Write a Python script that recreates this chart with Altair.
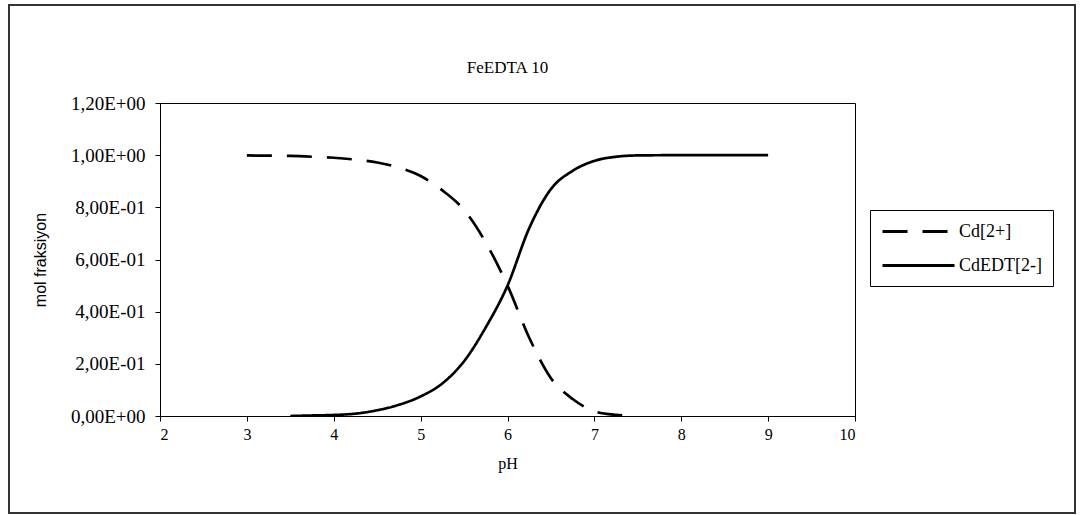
import altair as alt
import pandas as pd

# pH values and mole fractions
ph_cd = [3.0, 3.25, 3.5, 3.75, 4.0, 4.25, 4.5, 4.75, 5.0, 5.25, 5.5, 5.75,
         6.0, 6.25, 6.5, 6.75, 7.0, 7.25, 7.45]
cd2 = [0.999, 0.998, 0.997, 0.994, 0.99, 0.983, 0.972, 0.952, 0.92, 0.865,
       0.79, 0.665, 0.5, 0.30, 0.145, 0.065, 0.018, 0.004, 0.0005]

ph_edt = [3.5, 3.75, 4.0, 4.25, 4.5, 4.75, 5.0, 5.25, 5.5, 5.75, 6.0, 6.25,
          6.5, 6.75, 7.0, 7.25, 7.5, 8.0, 8.5, 9.0]
cdedt = [0.0, 0.002, 0.004, 0.009, 0.022, 0.043, 0.075, 0.125, 0.21, 0.34,
         0.50, 0.72, 0.87, 0.94, 0.978, 0.994, 0.999, 1.0, 1.0, 1.0]

series_names = ["Cd[2+]", "CdEDT[2-]"]
chart_title = ["FeEDTA 10"]
y_tick_values = [0, 0.2, 0.4, 0.6, 0.8, 1.0, 1.2]
y_tick_labels = ["0,00E+00", "2,00E-01", "4,00E-01", "6,00E-01",
                 "8,00E-01", "1,00E+00", "1,20E+00"]
x_tick_values = [2, 3, 4, 5, 6, 7, 8, 9, 10]

df = pd.concat([
    pd.DataFrame({"pH": ph_cd, "frac": cd2, "series": series_names[0]}),
    pd.DataFrame({"pH": ph_edt, "frac": cdedt, "series": series_names[1]}),
])

label_array = "[" + ",".join("'" + s + "'" for s in y_tick_labels) + "]"

SERIF = "Liberation Serif"

lines = alt.Chart(df).mark_line(color="black", strokeWidth=2.7, clip=True,
                                interpolate="monotone").encode(
    x=alt.X("pH:Q",
            scale=alt.Scale(domain=[2, 10], nice=False, zero=False),
            axis=alt.Axis(values=x_tick_values, title="pH", grid=False,
                          tickSize=5, tickColor="black", domainColor="black",
                          labelFont=SERIF, labelFontSize=16, labelColor="black",
                          labelPadding=5, titleFont=SERIF, titleFontSize=16,
                          titleFontWeight="normal", titleColor="black",
                          titlePadding=13, format="d")),
    y=alt.Y("frac:Q",
            scale=alt.Scale(domain=[0, 1.2], nice=False),
            axis=alt.Axis(values=y_tick_values, title="mol fraksiyon", grid=False,
                          tickSize=5, tickColor="black", domainColor="black",
                          labelFont=SERIF, labelFontSize=19, labelColor="black",
                          labelPadding=10,
                          labelExpr=label_array + "[round(datum.value*5)]",
                          titleFont="Liberation Sans", titleFontSize=16,
                          titleFontWeight="normal", titleColor="black",
                          titlePadding=22)),
    strokeDash=alt.StrokeDash(
        "series:N",
        scale=alt.Scale(domain=series_names, range=[[25, 15], [1, 0]]),
        legend=alt.Legend(title=None, orient="none", legendX=710, legendY=107,
                          strokeColor="black", fillColor="white", padding=11,
                          symbolType="M-4,0H4", symbolSize=324,
                          symbolOffset=27, symbolStrokeWidth=3,
                          symbolStrokeColor="black", symbolFillColor="transparent",
                          labelFont=SERIF, labelFontSize=18, labelColor="black",
                          labelOffset=30, rowPadding=14)),
)

frame = alt.Chart(pd.DataFrame({"a": [0]})).mark_rect(
    fill=None, stroke="#333333", strokeWidth=2, clip=False
).encode(
    x=alt.value(-151), x2=alt.value(915), y=alt.value(-98), y2=alt.value(410)
)

title = alt.Chart(pd.DataFrame({"t": chart_title})).mark_text(
    font=SERIF, fontSize=17, color="black", align="center", baseline="middle"
).encode(text="t:N", x=alt.value(347.5), y=alt.value(-35))

chart = alt.layer(frame, lines, title).properties(
    width=695, height=313,
    autosize=alt.AutoSizeParams(type="none"),
    padding={"left": 160, "top": 103, "right": 226, "bottom": 99},
    background="white",
).configure_view(stroke="black", strokeWidth=1)

chart.save("out.html", embed_options={"renderer": "svg", "actions": False})
